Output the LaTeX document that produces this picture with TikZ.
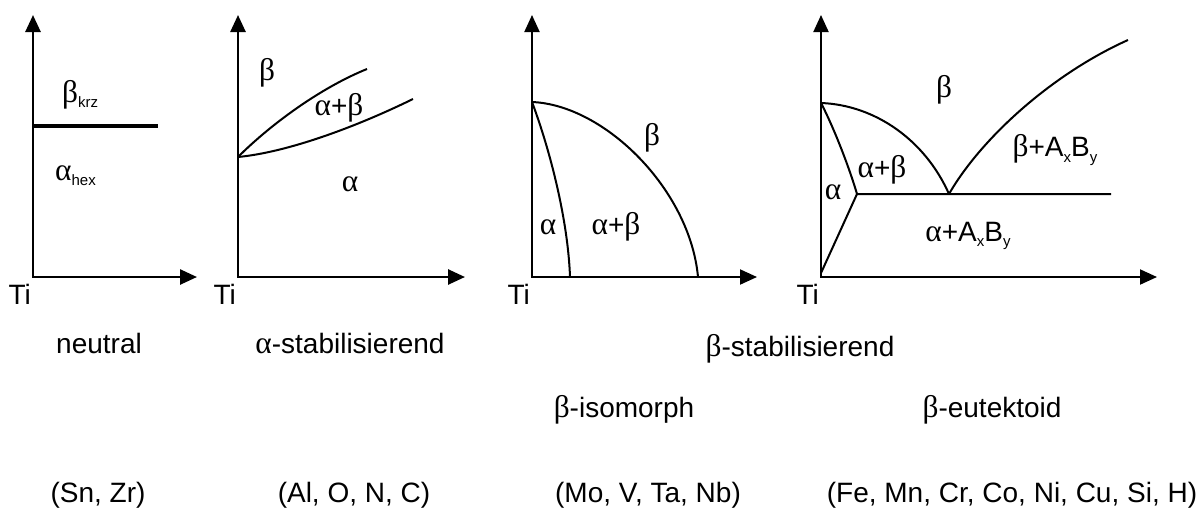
\documentclass[tikz,border=0pt]{standalone}
\usepackage{fontspec}
\setmainfont{Liberation Sans}
\newfontfamily\grk[Scale=1.12]{Liberation Serif}
\usepackage{tikz}
\usetikzlibrary{arrows.meta}
\newcommand{\alp}{{\grk α}}
\newcommand{\bet}{{\grk β}}
\newcommand{\lowidx}[1]{\raisebox{-0.35ex}{\fontsize{15}{15}\selectfont #1}}

\begin{document}
\begin{tikzpicture}[x=1pt,y=-1pt,
  axes/.style={line width=#1,line join=miter,{Triangle[length=17pt,width=15pt]}-{Triangle[length=17pt,width=15pt]}},
  phase/.style={line width=2pt},
  lbl/.style={font=\fontsize{28}{32}\selectfont,inner sep=0pt}]
\useasboundingbox (0,0) rectangle (1204,509);

% axes
\coordinate (o1) at (33,277);  \coordinate (y1) at (33,15);  \coordinate (x1) at (197,277);
\coordinate (o2) at (238,277); \coordinate (y2) at (238,15); \coordinate (x2) at (465,277);
\coordinate (o3) at (532,277); \coordinate (y3) at (532,15); \coordinate (x3) at (757,277);
\coordinate (o4) at (821,277); \coordinate (y4) at (821,15); \coordinate (x4) at (1157,277);
\draw[axes=2.6pt] (y1) -- (o1) -- (x1);
\draw[axes=2.6pt] (y2) -- (o2) -- (x2);
\draw[axes=2pt] (y3) -- (o3) -- (x3);
\draw[axes=2pt] (y4) -- (o4) -- (x4);
\node[lbl,anchor=base east] (ti1) at (31,304) {Ti};
\node[lbl,anchor=base east] (ti2) at (236,304) {Ti};
\node[lbl,anchor=base east] (ti3) at (530,304) {Ti};
\node[lbl,anchor=base east] (ti4) at (819,304) {Ti};

% neutral
\coordinate (n1) at (33,126); \coordinate (n2) at (158,126);
\draw[line width=3.3pt] (n1) -- (n2);
\node[lbl,anchor=base west] (bkrz) at (62,102) {\bet\lowidx{krz}};
\node[lbl,anchor=base west] (ahex) at (55,180) {\alp\lowidx{hex}};

% alpha-stabilisierend
\coordinate (a0) at (238,157); \coordinate (a1) at (367,69); \coordinate (a2) at (413,99);
\draw[phase] (a0) .. controls (270,125) and (320,88) .. (a1);
\draw[phase] (a0) .. controls (290,152) and (360,125) .. (a2);
\node[lbl] (ab) at (267,73) {\bet};
\node[lbl] (aab) at (339,108) {\alp+\bet};
\node[lbl] (aa) at (350,184) {\alp};

% beta-isomorph
\coordinate (i0) at (532,102); \coordinate (i1) at (570,277); \coordinate (i2) at (698,277);
\draw[phase] (i0) .. controls (550,150) and (568,220) .. (i1);
\draw[phase] (i0) .. controls (605,105) and (690,190) .. (i2);
\node[lbl] (ib) at (652,138) {\bet};
\node[lbl] (ia) at (548,227) {\alp};
\node[lbl] (iab) at (616,227) {\alp+\bet};

% beta-eutektoid
\coordinate (e0) at (821,103); \coordinate (e1) at (857,194); \coordinate (e2) at (949,194);
\coordinate (e3) at (1111,194); \coordinate (e4) at (1128,40); \coordinate (e5) at (821,273);
\draw[phase] (e0) .. controls (835,130) and (850,170) .. (e1);
\draw[phase] (e0) .. controls (875,105) and (925,140) .. (e2);
\draw[phase] (e5) -- (e1) -- (e3);
\draw[phase] (e2) .. controls (980,140) and (1050,75) .. (e4);
\node[lbl] (eb) at (944,90) {\bet};
\node[lbl] (ebab) at (1055,150) {\bet+A\lowidx{x}B\lowidx{y}};
\node[lbl] (eab) at (882,170) {\alp+\bet};
\node[lbl] (ea) at (833,192) {\alp};
\node[lbl] (eaab) at (968,236) {\alp+A\lowidx{x}B\lowidx{y}};

% captions
\node[lbl,anchor=base] (cneu) at (99,353) {neutral};
\node[lbl,anchor=base] (cast) at (350,353) {\alp-stabilisierend};
\node[lbl,anchor=base] (cbst) at (800,356) {\bet-stabilisierend};
\node[lbl,anchor=base] (ciso) at (624,417) {\bet-isomorph};
\node[lbl,anchor=base] (ceut) at (992,417) {\bet-eutektoid};
\node[lbl,anchor=base] (eneu) at (98,502) {(Sn, Zr)};
\node[lbl,anchor=base] (east) at (354,502) {(Al, O, N, C)};
\node[lbl,anchor=base] (eiso) at (648,502) {(Mo, V, Ta, Nb)};
\node[lbl,anchor=base] (eeut) at (1012,502) {(Fe, Mn, Cr, Co, Ni, Cu, Si, H)};
\end{tikzpicture}
\end{document}
